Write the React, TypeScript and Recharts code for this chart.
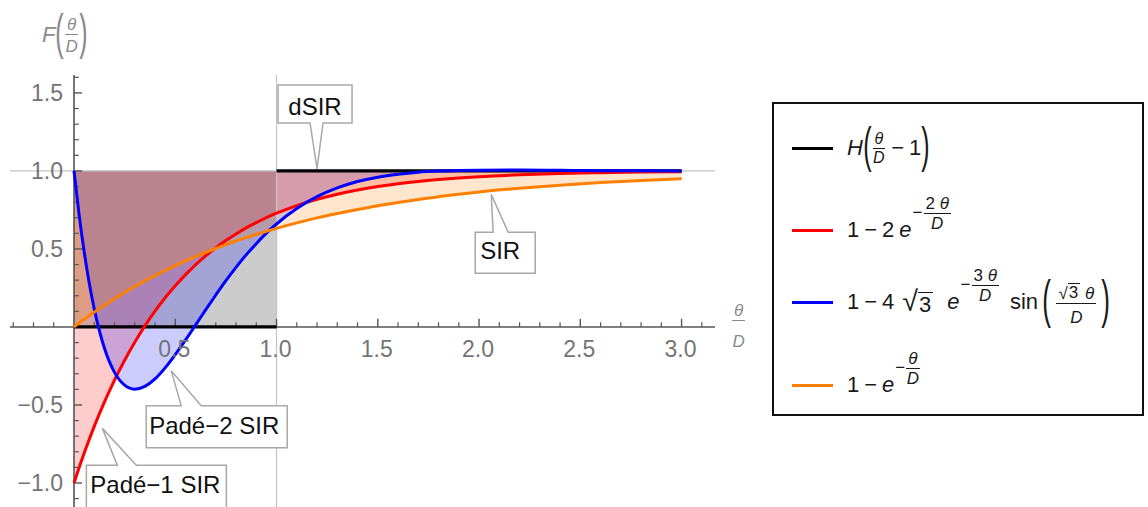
import React from 'react'
import { ComposedChart, Area, Line, XAxis, YAxis, ReferenceLine, ReferenceDot } from 'recharts'

// sample points along theta/D
const thetaOverD = [
  0, 0.025, 0.05, 0.075, 0.1, 0.15, 0.2, 0.25, 0.3, 0.35, 0.4, 0.45, 0.5, 0.55, 0.6, 0.65, 0.7, 0.75, 0.8, 0.85,
  0.9, 0.95, 1.0, 1.1, 1.2, 1.3, 1.4, 1.5, 1.6, 1.7, 1.8, 1.9, 2.0, 2.2, 2.4, 2.6, 2.8, 3.0,
]
// red: Padé-1 SIR
const padeOneSir = [
  -1, -0.902, -0.81, -0.721, -0.637, -0.482, -0.341, -0.213, -0.098, 0.007, 0.101, 0.187, 0.264, 0.334, 0.398,
  0.455, 0.507, 0.554, 0.596, 0.635, 0.669, 0.701, 0.729, 0.778, 0.819, 0.851, 0.878, 0.9, 0.918, 0.933, 0.945,
  0.955, 0.963, 0.975, 0.984, 0.989, 0.993, 0.995,
]
// blue: Padé-2 SIR
const padeTwoSir = [
  1, 0.722, 0.484, 0.284, 0.116, -0.135, -0.291, -0.373, -0.399, -0.381, -0.333, -0.262, -0.177, -0.085, 0.012,
  0.11, 0.205, 0.297, 0.382, 0.462, 0.534, 0.601, 0.66, 0.759, 0.835, 0.891, 0.932, 0.96, 0.979, 0.992, 0.999,
  1.003, 1.005, 1.006, 1.004, 1.002, 1.001, 1.0,
]
// orange: SIR
const sirCurve = [
  0, 0.025, 0.049, 0.072, 0.095, 0.139, 0.181, 0.221, 0.259, 0.295, 0.33, 0.362, 0.393, 0.423, 0.451, 0.478,
  0.503, 0.528, 0.551, 0.573, 0.593, 0.613, 0.632, 0.667, 0.699, 0.727, 0.753, 0.777, 0.798, 0.817, 0.835, 0.85,
  0.865, 0.889, 0.909, 0.926, 0.939, 0.95,
]
// black: dSIR step H(θ/D - 1)
const dsirSteps = [
  { from: 0, to: 1, value: 0 },
  { from: 1, to: 3, value: 1 },
]

const xMajorTicks = [0.5, 1, 1.5, 2, 2.5, 3]
const xMinorTicks = [
  -0.3, -0.2, -0.1, 0.1, 0.2, 0.3, 0.4, 0.6, 0.7, 0.8, 0.9, 1.1, 1.2, 1.3, 1.4, 1.6, 1.7, 1.8, 1.9, 2.1, 2.2,
  2.3, 2.4, 2.6, 2.7, 2.8, 2.9, 3.1,
]
const yMajorTicks = [-1, -0.5, 0.5, 1, 1.5]
const yMinorTicks = [
  -1.1, -0.9, -0.8, -0.7, -0.6, -0.4, -0.3, -0.2, -0.1, 0.1, 0.2, 0.3, 0.4, 0.6, 0.7, 0.8, 0.9, 1.1, 1.2, 1.3,
  1.4, 1.6,
]

const calloutTexts = ['dSIR', 'SIR', 'Padé−2 SIR', 'Padé−1 SIR']
const calloutX = [1.2, 2.06, 0.48, 0.14]
const calloutY = [1.0, 0.85, -0.28, -0.65]

// box [left, top, right, bottom] relative to the pointer tip, pointer base, text offset
const calloutLayout = [
  { box: [-39, -86, 35, -48], base: [-7, 6], side: 'bottom', tx: -2, ty: -56, tip: -2 },
  { box: [-16, 38, 44, 79], base: [2, 17], side: 'top', tx: 9, ty: 65, tip: 0 },
  { box: [-25, 35, 116, 77], base: [10, 30], side: 'top', tx: 43, ty: 63, tip: 0 },
  { box: [-16, 37, 124, 82], base: [15, 34], side: 'top', tx: 53, ty: 65, tip: 0 },
]

const FONT = '"Liberation Sans", Arial, sans-serif'
const TICK_COLOR = '#747474'

const fmt = (v: number) => (v < 0 ? '−' : '') + Math.abs(v).toFixed(1)

function calloutShape(i: number) {
  const lay = calloutLayout[i]
  return (p: any) => {
    const cx = p.cx
    const cy = p.cy + lay.tip
    const [l, t, r, b] = lay.box
    const x0 = cx + l
    const x1 = cx + r
    const y0 = p.cy + t
    const y1 = p.cy + b
    const b1 = cx + lay.base[0]
    const b2 = cx + lay.base[1]
    const d =
      lay.side === 'bottom'
        ? `M${x0},${y0} H${x1} V${y1} H${b2} L${cx},${cy} L${b1},${y1} H${x0} Z`
        : `M${x0},${y0} H${b1} L${cx},${cy} L${b2},${y0} H${x1} V${y1} H${x0} Z`
    return (
      <g>
        <path d={d} fill="#fff" stroke="#a8a8a8" strokeWidth={1.5} />
        <text x={cx + lay.tx} y={p.cy + lay.ty} textAnchor="middle" fontSize={24} fontFamily={FONT} fill="#111">
          {calloutTexts[i]}
        </text>
      </g>
    )
  }
}

function Frac({ n, d, fs, gap = 1 }: { n: React.ReactNode; d: React.ReactNode; fs: number; gap?: number }) {
  return (
    <span style={{ display: 'inline-flex', flexDirection: 'column', alignItems: 'center', fontSize: fs, lineHeight: 1, margin: '0 1px' }}>
      <span style={{ padding: '0 2px', paddingBottom: 1 }}>{n}</span>
      <span style={{ alignSelf: 'stretch', borderTop: '1.3px solid currentColor' }} />
      <span style={{ paddingTop: gap }}>{d}</span>
    </span>
  )
}

function Paren({ ch, size }: { ch: string; size: number }) {
  return (
    <span style={{ display: 'inline-block', fontSize: size, lineHeight: 1, transform: 'scaleX(0.5)', margin: '0 -4px', position: 'relative', top: -3 }}>
      {ch}
    </span>
  )
}

function Sup({ children }: { children: React.ReactNode }) {
  return (
    <span style={{ display: 'inline-flex', alignItems: 'center', fontSize: 17, transform: 'translateY(-17px)', marginLeft: 1 }}>
      {children}
    </span>
  )
}

const Op = ({ children }: { children: React.ReactNode }) => <span style={{ margin: '0 5px' }}>{children}</span>
const I = ({ children }: { children: React.ReactNode }) => <i>{children}</i>
const Sqrt3 = ({ big }: { big?: boolean }) => (
  <span style={{ display: 'inline-flex', alignItems: 'flex-end' }}>
    <span style={{ fontSize: big ? '1.3em' : '1em', lineHeight: 1 }}>√</span>
    <span style={{ borderTop: '1.5px solid currentColor', lineHeight: 1.05, padding: '0 2px 0 1px' }}>3</span>
  </span>
)

function Row({ top, color, children }: { top: number; color: string; children: React.ReactNode }) {
  return (
    <>
      <div style={{ position: 'absolute', left: 18, top: top - 1.5, width: 41, height: 3, background: color }} />
      <div style={{ position: 'absolute', left: 73, top, height: 0, display: 'flex', alignItems: 'center', whiteSpace: 'nowrap', fontSize: 22, color: '#1a1a1a' }}>
        {children}
      </div>
    </>
  )
}

export default function App() {
  const rows = thetaOverD.map((x, i) => ({
    x,
    pade1: padeOneSir[i],
    pade2: padeTwoSir[i],
    sir: sirCurve[i],
    pade1Band: [padeOneSir[i], 1],
    pade2Band: [padeTwoSir[i], 1],
    sirBand: [sirCurve[i], 1],
  }))
  const stepRows: { x: number; h: number | null }[] = []
  dsirSteps.forEach((s, i) => {
    if (i > 0) stepRows.push({ x: s.from, h: null })
    stepRows.push({ x: s.from, h: s.value }, { x: s.to, h: s.value })
  })
  const stepBand = dsirSteps.flatMap((s) => [
    { x: s.from, band: [s.value, 1] },
    { x: s.to, band: [s.value, 1] },
  ])

  return (
    <div style={{ position: 'absolute', left: 0, top: 0, width: 1148, height: 507, background: '#fff', fontFamily: FONT, overflow: 'hidden' }}>
      <ComposedChart width={760} height={507} data={rows} margin={{ top: 75, right: 45, bottom: 0, left: 10 }}>
        <XAxis type="number" dataKey="x" domain={[-0.316, 3.165]} allowDataOverflow hide />
        <YAxis type="number" domain={[-1.154, 1.615]} allowDataOverflow hide />

        <Area data={stepBand} dataKey="band" type="linear" fill="#000" fillOpacity={0.2} stroke="none" isAnimationActive={false} />
        <Area dataKey="pade1Band" type="monotone" fill="#ff0000" fillOpacity={0.2} stroke="none" isAnimationActive={false} />
        <Area dataKey="pade2Band" type="monotone" fill="#0000ff" fillOpacity={0.2} stroke="none" isAnimationActive={false} />
        <Area dataKey="sirBand" type="monotone" fill="#ff8000" fillOpacity={0.2} stroke="none" isAnimationActive={false} />

        <ReferenceLine y={1} stroke="#c4c4c4" strokeWidth={1.2} />
        <ReferenceLine x={1} stroke="#c4c4c4" strokeWidth={1.2} />
        <ReferenceLine y={0} stroke="#555" strokeWidth={1.6} />
        <ReferenceLine x={0} stroke="#555" strokeWidth={1.6} />

        {xMajorTicks.map((v) => (
          <ReferenceLine key={'xM' + v} segment={[{ x: v, y: 0 }, { x: v, y: 0.052 }]} stroke="#555" strokeWidth={1.4} />
        ))}
        {xMinorTicks.map((v) => (
          <ReferenceLine key={'xm' + v} segment={[{ x: v, y: 0 }, { x: v, y: 0.03 }]} stroke="#555" strokeWidth={1.2} />
        ))}
        {yMajorTicks.map((v) => (
          <ReferenceLine key={'yM' + v} segment={[{ x: 0, y: v }, { x: 0.04, y: v }]} stroke="#555" strokeWidth={1.4} />
        ))}
        {yMinorTicks.map((v) => (
          <ReferenceLine key={'ym' + v} segment={[{ x: 0, y: v }, { x: 0.024, y: v }]} stroke="#555" strokeWidth={1.2} />
        ))}

        {xMajorTicks.map((v) => (
          <ReferenceDot
            key={'xl' + v}
            x={v}
            y={0}
            r={0}
            shape={(p: any) => (
              <text x={p.cx - 1} y={p.cy + 30} textAnchor="middle" fontSize={23} fontFamily={FONT} fill={TICK_COLOR}>
                {fmt(v)}
              </text>
            )}
          />
        ))}
        {yMajorTicks.map((v) => (
          <ReferenceDot
            key={'yl' + v}
            x={0}
            y={v}
            r={0}
            shape={(p: any) => (
              <text x={p.cx - 11} y={p.cy + 8} textAnchor="end" fontSize={23} fontFamily={FONT} fill={TICK_COLOR}>
                {fmt(v)}
              </text>
            )}
          />
        ))}

        <Line data={stepRows} dataKey="h" type="linear" stroke="#000" strokeWidth={3.2} dot={false} connectNulls={false} isAnimationActive={false} />
        <Line dataKey="pade1" type="monotone" stroke="#ff0000" strokeWidth={3} dot={false} isAnimationActive={false} />
        <Line dataKey="pade2" type="monotone" stroke="#0000ff" strokeWidth={3} dot={false} isAnimationActive={false} />
        <Line dataKey="sir" type="monotone" stroke="#ff8000" strokeWidth={3} dot={false} isAnimationActive={false} />

        {calloutTexts.map((t, i) => (
          <ReferenceDot key={t} x={calloutX[i]} y={calloutY[i]} r={0} shape={calloutShape(i)} />
        ))}
      </ComposedChart>

      {/* y axis label F(θ/D) */}
      <div style={{ position: 'absolute', left: 42, top: 35, height: 0, display: 'flex', alignItems: 'center', color: '#8a8a8a', fontSize: 22 }}>
        <I>F</I>
        <Paren ch="(" size={50} />
        <Frac n={<I>θ</I>} d={<I>D</I>} fs={17} gap={3} />
        <Paren ch=")" size={50} />
      </div>

      {/* x axis label θ/D */}
      <div style={{ position: 'absolute', left: 731, top: 326, height: 0, display: 'flex', alignItems: 'center', color: '#8a8a8a' }}>
        <Frac n={<I>θ</I>} d={<I>D</I>} fs={17} gap={12} />
      </div>

      {/* legend */}
      <div style={{ position: 'absolute', left: 772, top: 102, width: 372, height: 314, border: '2px solid #111', boxSizing: 'border-box', background: '#fff' }}>
        <Row top={44} color="#000">
          <I>H</I>
          <Paren ch="(" size={50} />
          <Frac n={<I>θ</I>} d={<I>D</I>} fs={16} />
          <Op>−</Op>
          <span>1</span>
          <Paren ch=")" size={50} />
        </Row>
        <Row top={126} color="#ff0000">
          <span>1</span>
          <Op>−</Op>
          <span>2</span>
          <span style={{ marginLeft: 5 }}>
            <I>e</I>
          </span>
          <Sup>
            −<Frac n={<>2 <I>θ</I></>} d={<I>D</I>} fs={17} />
          </Sup>
        </Row>
        <Row top={198} color="#0000ff">
          <span>1</span>
          <Op>−</Op>
          <span>4</span>
          <span style={{ marginLeft: 8 }}>
            <Sqrt3 big />
          </span>
          <span style={{ marginLeft: 14 }}>
            <I>e</I>
          </span>
          <Sup>
            −<Frac n={<>3 <I>θ</I></>} d={<I>D</I>} fs={17} />
          </Sup>
          <span style={{ marginLeft: 10 }}>sin</span>
          <span style={{ marginLeft: 4 }}>
            <Paren ch="(" size={52} />
          </span>
          <span style={{ margin: '0 4px' }}>
            <Frac n={<><Sqrt3 /> <I>θ</I></>} d={<I>D</I>} fs={17} gap={5} />
          </span>
          <Paren ch=")" size={52} />
        </Row>
        <Row top={281} color="#ff8000">
          <span>1</span>
          <Op>−</Op>
          <I>e</I>
          <Sup>
            −<Frac n={<I>θ</I>} d={<I>D</I>} fs={17} />
          </Sup>
        </Row>
      </div>
    </div>
  )
}
